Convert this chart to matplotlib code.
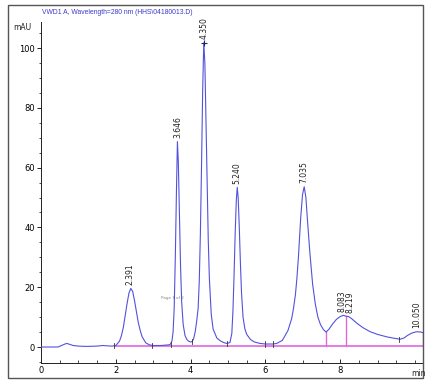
import numpy as np
import matplotlib
matplotlib.use("Agg")
import matplotlib.pyplot as plt
from matplotlib.patches import Rectangle
from matplotlib.ticker import MultipleLocator

# Detector trace (time in min, signal in mAU)
trace_t = [0.0, 0.45, 0.55, 0.62, 0.69, 0.76, 0.86, 1.0, 1.2, 1.5, 1.65, 1.75, 1.9, 2.0,
           2.1, 2.15, 2.2, 2.25, 2.3, 2.35, 2.40, 2.45, 2.5, 2.55, 2.6, 2.65, 2.7, 2.8,
           2.9, 3.0, 3.2, 3.4, 3.45, 3.50, 3.53, 3.56, 3.59, 3.62, 3.646, 3.67, 3.70,
           3.73, 3.76, 3.80, 3.85, 3.9, 3.95, 4.0, 4.04, 4.08, 4.12, 4.16, 4.2, 4.23,
           4.26, 4.29, 4.32, 4.35, 4.38, 4.41, 4.44, 4.47, 4.50, 4.55, 4.6, 4.7, 4.8,
           4.9, 4.97, 5.05, 5.1, 5.13, 5.16, 5.19, 5.22, 5.245, 5.27, 5.30, 5.33, 5.36,
           5.40, 5.45, 5.5, 5.6, 5.7, 5.85, 6.0, 6.2, 6.3, 6.45, 6.6, 6.7, 6.75, 6.8,
           6.84, 6.88, 6.94, 6.99, 7.035, 7.08, 7.13, 7.19, 7.26, 7.33, 7.40, 7.47,
           7.55, 7.62, 7.7, 7.8, 7.9, 8.0, 8.083, 8.15, 8.219, 8.3, 8.44, 8.6, 8.8,
           9.0, 9.24, 9.45, 9.6, 9.7, 9.8, 9.9, 10.0, 10.05, 10.15, 10.21]
trace_mau = [0.0, 0.0, 0.5, 0.9, 1.2, 0.9, 0.5, 0.3, 0.2, 0.3, 0.5, 0.4, 0.3, 0.5,
             2.0, 3.8, 6.5, 10.5, 14.5, 18.0, 19.6, 18.6, 15.5, 11.8, 8.2, 5.6, 3.5, 1.4,
             0.7, 0.5, 0.5, 0.7, 0.8, 2.0, 5.0, 13.0, 30.0, 52.0, 68.7, 62.0, 44.0,
             27.0, 15.0, 7.5, 3.8, 2.5, 1.9, 1.7, 1.8, 2.8, 5.0, 8.5, 13.0, 22.0,
             38.0, 60.0, 85.0, 101.7, 95.0, 75.0, 54.0, 36.0, 23.0, 11.0, 6.0, 3.0, 2.0,
             1.4, 1.2, 1.5, 4.5, 12.0, 24.0, 38.0, 49.0, 53.4, 50.0, 40.0, 28.0, 18.0,
             10.0, 6.0, 4.2, 2.5, 1.7, 1.2, 1.0, 1.0, 1.2, 2.2, 5.5, 9.5, 13.0, 17.5,
             23.0, 30.0, 43.0, 51.0, 53.6, 50.0, 41.0, 31.0, 21.0, 14.5, 10.0, 7.5,
             5.8, 5.0, 6.0, 7.8, 9.3, 10.2, 10.6, 10.3, 10.2, 9.5, 8.0, 6.5, 5.1,
             4.2, 3.4, 2.9, 2.6, 3.0, 3.9, 4.6, 5.0, 5.1, 5.0, 4.8]

# Integrated peaks: retention time labels and apex heights
peak_rt = [2.391, 3.646, 4.350, 5.240, 7.035, 8.083, 8.219, 10.050]
peak_apex = [19.6, 68.7, 101.7, 53.4, 53.6, 10.6, 10.2, 5.1]
peak_labels = ["2.391", "3.646", "4.350", "5.240", "7.035", "8.083", "8.219", "10.050"]

# Integration baseline and events
baseline_start, baseline_end, baseline_level = 1.98, 10.21, 0.3
drop_t = [7.62, 8.15, 10.21]
drop_top = [5.0, 10.3, 4.8]
event_t = [1.96, 2.98, 3.47, 4.03, 4.97, 6.0, 6.19, 9.58]
event_mau = [0.4, 0.5, 0.8, 1.8, 1.2, 1.0, 1.0, 2.6]

title = "VWD1 A, Wavelength=280 nm (HHS\\04180013.D)"

W, H = 433, 386
fig = plt.figure(figsize=(W / 100, H / 100), dpi=100)
ax = fig.add_axes([41 / W, 1 - 363 / H, (423 - 41) / W, (363 - 22) / H])

trace_col = "#5252dc"
pink = "#e266de"

ax.plot(trace_t, trace_mau, color=trace_col, lw=0.8, zorder=3)
ax.plot([baseline_start, baseline_end], [baseline_level, baseline_level],
        color=pink, lw=1.2, zorder=2)
for t, top in zip(drop_t, drop_top):
    ax.plot([t, t], [baseline_level, top], color=pink, lw=1.0, zorder=2)
for t, m in zip(event_t, event_mau):
    ax.plot([t, t], [m - 0.9, m + 0.9], color="#333333", lw=0.6, zorder=4)

for t, h, lab in zip(peak_rt, peak_apex, peak_labels):
    dx = 0
    if lab == "8.083":
        dx = -0.04
    elif lab == "8.219":
        dx = 0.04
    ax.text(t + dx, h + 1.2, lab, rotation=90, ha="center", va="bottom",
            fontsize=5.5, color="#222222", zorder=5)
ax.plot([4.350], [101.7], marker="+", color="#222266", ms=4, mew=0.8, zorder=5)

ax.text(3.5, 16.4, "Page 1 of 2", fontsize=3, color="#888888", ha="center", va="center")

ax.set_xlim(0, 10.21)
ax.set_ylim(-5.35, 108.7)
ax.set_xticks([0, 2, 4, 6, 8])
ax.xaxis.set_minor_locator(MultipleLocator(0.5))
ax.set_yticks([0, 20, 40, 60, 80, 100])
ax.yaxis.set_minor_locator(MultipleLocator(5))
ax.tick_params(axis="x", which="major", direction="in", length=3, width=0.6,
               labelsize=6, pad=2)
ax.tick_params(axis="x", which="minor", direction="in", length=2, width=0.5)
ax.tick_params(axis="y", which="major", direction="out", length=3, width=0.6,
               labelsize=6, pad=1.5)
ax.tick_params(axis="y", which="minor", direction="out", length=1.5, width=0.5)
for s in ["top", "right"]:
    ax.spines[s].set_visible(False)
for s in ["left", "bottom"]:
    ax.spines[s].set_linewidth(0.7)
    ax.spines[s].set_color("#222222")
ax.patch.set_alpha(0)

fig.text(42 / W, 1 - 12 / H, title, fontsize=4.9, color="#3a3ad0",
         ha="left", va="center", family=["Liberation Sans Narrow", "Liberation Sans"])
fig.text(22 / W, 1 - 27 / H, "mAU", fontsize=5.5, color="#222222", ha="center", va="center")
fig.text(419 / W, 1 - 374 / H, "min", fontsize=5.5, color="#222222", ha="center", va="center")

fig.add_artist(Rectangle((8 / W, 1 - 378 / H), (423 - 8) / W, (378 - 5) / H,
                         transform=fig.transFigure, fill=False, ec="#555555", lw=1.0))

fig.savefig("out.png", dpi=100)
